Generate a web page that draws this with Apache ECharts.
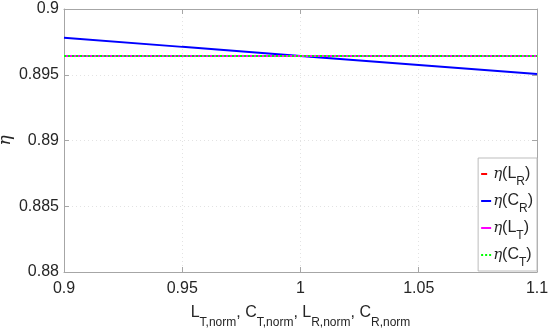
<!DOCTYPE html>
<html><head><meta charset="utf-8">
<script src="https://cdn.jsdelivr.net/npm/echarts@6/dist/echarts.min.js"></script>
<style>html,body{margin:0;padding:0;background:#fff}#c{width:550px;height:329px}</style>
</head><body><div id="c"></div>
<script>
const xValues = [0.9, 0.95, 1.0, 1.05, 1.1];
const etaLR = [0.89643, 0.89643, 0.89643, 0.89643, 0.89643];
const etaCR = [0.89782, 0.89712, 0.89643, 0.89574, 0.89506];
const etaLT = [0.89643, 0.89643, 0.89643, 0.89643, 0.89643];
const etaCT = [0.89643, 0.89643, 0.89643, 0.89643, 0.89643];
const xTicks = [0.9, 0.95, 1, 1.05, 1.1];
const yTicks = [0.88, 0.885, 0.89, 0.895, 0.9];
const names = ['η(L_R)', 'η(C_R)', 'η(L_T)', 'η(C_T)'];
const legendRich = {
  'η(L_R)': '{e|η}{m|(L}{s|R}{m|)}',
  'η(C_R)': '{e|η}{m|(C}{s|R}{m|)}',
  'η(L_T)': '{e|η}{m|(L}{s|T}{m|)}',
  'η(C_T)': '{e|η}{m|(C}{s|T}{m|)}'
};
const pair = arr => xValues.map((x, i) => [x, arr[i]]);
const fmt = v => String(parseFloat(Number(v).toFixed(4)));
const FONT = 'Liberation Sans, Arial, sans-serif';
const axisGrey = '#a6a6a6';
const txt = '#262626';

const chart = echarts.init(document.getElementById('c'), null, {renderer: 'canvas'});
const baseX = {
  type: 'value', min: xTicks[0], max: xTicks[xTicks.length - 1], interval: 0.05,
  axisLine: {show: true, lineStyle: {color: axisGrey, width: 1}},
  axisTick: {show: true, inside: true, length: 5, lineStyle: {color: axisGrey}},
  splitLine: {show: false}
};
const baseY = {
  type: 'value', min: yTicks[0], max: yTicks[yTicks.length - 1], interval: 0.005,
  axisLine: {show: true, lineStyle: {color: axisGrey, width: 1}},
  axisTick: {show: true, inside: true, length: 5, lineStyle: {color: axisGrey}},
  splitLine: {show: false}
};
const grid = {color: '#e3e3e3', type: [1, 3], width: 1};
chart.setOption({
  animation: false,
  backgroundColor: '#fff',
  grid: {left: 64, right: 13, top: 9, bottom: 57, containLabel: false, outerBoundsMode: 'none'},
  xAxis: [
    Object.assign({}, baseX, {
      position: 'bottom',
      axisLabel: {show: true, formatter: fmt, color: txt, fontSize: 16, fontFamily: FONT, margin: 9},
      splitLine: {show: true, lineStyle: grid},
      name: '{m|L}{s|T,norm}{m|, C}{s|T,norm}{m|, L}{s|R,norm}{m|, C}{s|R,norm}',
      nameLocation: 'middle', nameGap: 31,
      nameTextStyle: {
        rich: {
          m: {fontSize: 16, fontFamily: FONT, color: txt, verticalAlign: 'bottom', lineHeight: 18},
          s: {fontSize: 12, fontFamily: FONT, color: txt, verticalAlign: 'top', padding: [14, 0, 0, 0], lineHeight: 18}
        }
      }
    }),
    Object.assign({}, baseX, {position: 'top', axisLabel: {show: false}})
  ],
  yAxis: [
    Object.assign({}, baseY, {
      position: 'left',
      axisLabel: {show: true, formatter: fmt, color: txt, fontSize: 16, fontFamily: FONT, margin: 5},
      splitLine: {show: true, lineStyle: grid},
      name: 'η', nameLocation: 'middle', nameGap: 50, nameRotate: 90, nameMoveOverlap: false,
      nameTextStyle: {fontSize: 17, fontFamily: 'DejaVu Serif, serif', fontStyle: 'italic', color: txt}
    }),
    Object.assign({}, baseY, {position: 'right', axisLabel: {show: false}})
  ],
  legend: {
    orient: 'vertical', right: 13, bottom: 58,
    backgroundColor: '#fff', borderColor: '#bdbdbd', borderWidth: 1, borderRadius: 0,
    padding: [6, 4, 2, 2], itemGap: 3, itemWidth: 10, itemHeight: 10,
    data: names,
    itemStyle: {opacity: 0},
    formatter: n => legendRich[n],
    textStyle: {
      padding: [0, 0, 0, -3],
      rich: {
        e: {fontSize: 15, fontFamily: 'DejaVu Serif, serif', fontStyle: 'italic', color: txt, lineHeight: 20},
        m: {fontSize: 16, fontFamily: FONT, color: txt, lineHeight: 20},
        s: {fontSize: 12, fontFamily: FONT, color: txt, verticalAlign: 'top', padding: [12, 0, 0, 0], lineHeight: 20}
      },
      fontSize: 16, fontFamily: FONT, color: txt
    }
  },
  series: [
    {name: names[0], type: 'line', data: pair(etaLR), showSymbol: false, symbol: 'none',
     lineStyle: {color: '#ff0000', width: 2, type: [6, 4]}, itemStyle: {color: '#ff0000'}, z: 2},
    {name: names[1], type: 'line', data: pair(etaCR), showSymbol: false, symbol: 'none',
     lineStyle: {color: '#0000ff', width: 2}, itemStyle: {color: '#0000ff'}, z: 3},
    {name: names[2], type: 'line', data: pair(etaLT), showSymbol: false, symbol: 'none',
     lineStyle: {color: '#ff00ff', width: 2}, itemStyle: {color: '#ff00ff'}, z: 4},
    {name: names[3], type: 'line', data: pair(etaCT), showSymbol: false, symbol: 'none',
     lineStyle: {color: '#00ff00', width: 2, type: [2, 2]}, itemStyle: {color: '#00ff00'}, z: 5}
  ]
});
</script></body></html>
